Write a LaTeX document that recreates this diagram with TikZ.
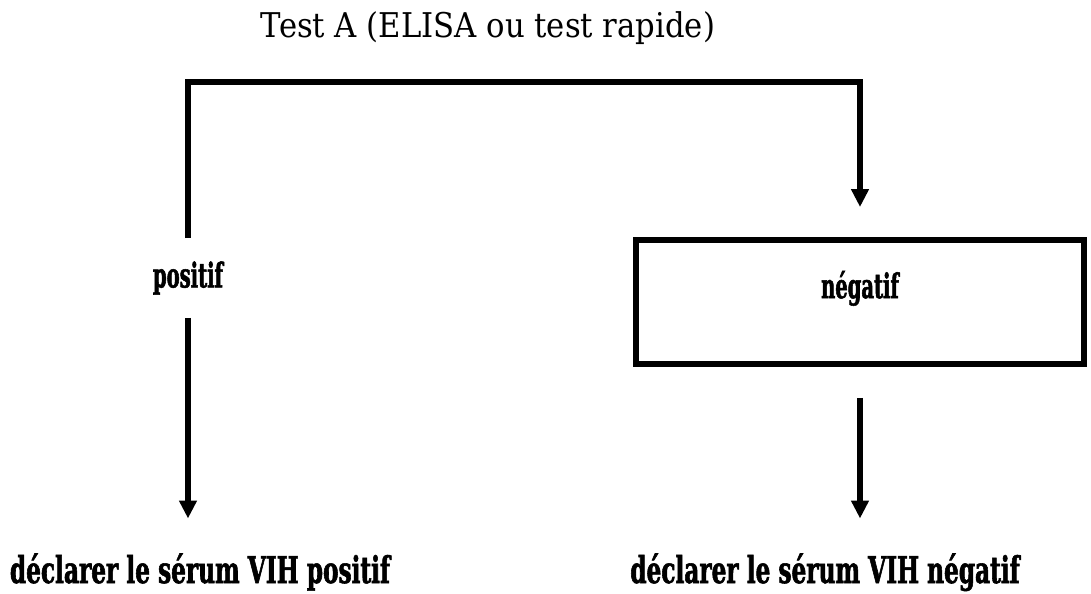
\documentclass[tikz,border=0pt]{standalone}
\usepackage{fontspec}
\setmainfont{DejaVu Serif}
\newfontfamily\titlefont{DejaVu Serif}[FakeStretch=0.9]
\newfontfamily\labelfont{DejaVu Serif Bold}[FakeStretch=0.57, FakeBold=1.5]
\newfontfamily\resultfont{DejaVu Serif Bold}[FakeStretch=0.63, FakeBold=1.5]
\usetikzlibrary{arrows.meta}

\begin{document}
\begin{tikzpicture}
    [
        x = 0.02cm,
        y = -0.02cm,
        line width = 0.12cm,
        flow/.style = {-{Triangle[width = 0.34cm, length = 0.36cm]}},
        label text/.style = {font = \labelfont\fontsize{19.5}{22}\selectfont},
        result text/.style = {
            font = \resultfont\fontsize{21}{24}\selectfont,
            inner sep = 0pt,
            outer sep = 0pt,
            anchor = base
        },
    ]

    \useasboundingbox (0,0) rectangle (1091,594);

    \node [font = \titlefont\fontsize{19.4}{22}\selectfont, anchor = base] (title) at (488,38) {Test A (ELISA ou test rapide)};

    \node [label text, minimum height = 1.6cm, inner sep = 0pt, outer sep = 0pt] (pos) at (188,278) {positif};
    \node [label text, draw, text depth = 0.7cm, minimum width = 8.96cm, minimum height = 2.48cm] (neg) at (860,302) {négatif};

    \node [result text] (resPos) at (200,583) {déclarer le sérum VIH positif};
    \node [result text] (resNeg) at (825,583) {déclarer le sérum VIH négatif};

    \coordinate (top) at (0,82);

    \draw [flow, shorten > = 0.6cm] (pos.north) -- (pos.north |- top) -| (neg.north);
    \draw [flow, shorten > = 0.7cm] (pos.south) -- (pos.south |- resPos.north);
    \draw [flow, shorten < = 0.62cm, shorten > = 0.7cm] (neg.south) -- (neg.south |- resNeg.north);
\end{tikzpicture}
\end{document}
